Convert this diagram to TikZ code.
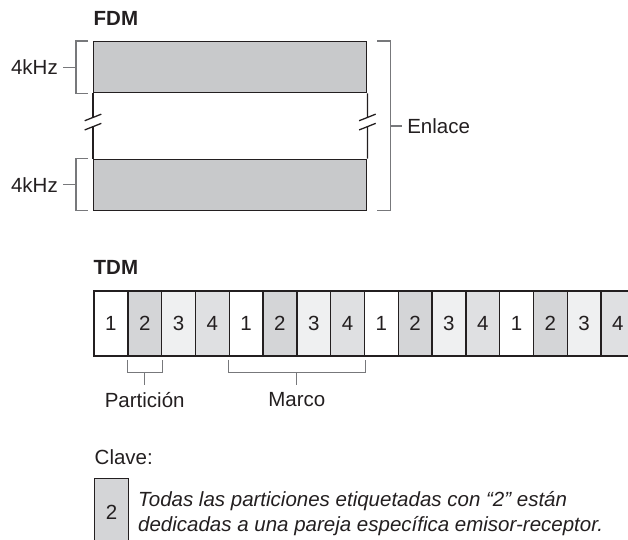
\documentclass[tikz,border=0pt]{standalone}
\usepackage{fontspec}
\setmainfont{Liberation Sans}
\usepackage{tikz}
\usetikzlibrary{positioning,calc}
\definecolor{ink}{HTML}{231F20}
\definecolor{brkgray}{HTML}{77787B}
\definecolor{bandgray}{HTML}{C8C9CB}
\definecolor{slotB}{HTML}{D4D5D7}
\definecolor{slotC}{HTML}{EFF0F1}
\definecolor{slotD}{HTML}{DFE0E2}
\newcommand{\figfont}{\fontsize{20.5}{25}\selectfont}
\tikzset{
  band/.style={draw=ink, line width=1.4pt, fill=bandgray, minimum width=273pt, minimum height=51pt, inner sep=0pt, anchor=north west},
  slot/.style={draw=ink, line width=1.4pt, minimum width=33.8pt, minimum height=65pt, inner sep=0pt, text=ink, font=\figfont},
  slot1/.style={slot, fill=white},
  slot2/.style={slot, fill=slotB},
  slot3/.style={slot, fill=slotC},
  slot4/.style={slot, fill=slotD},
  brk/.style={draw=brkgray, line width=1.1pt},
  cut/.style={draw=ink, line width=1.3pt},
  lbl/.style={text=ink, inner sep=0pt, font=\figfont},
  head/.style={lbl, font=\figfont\bfseries, anchor=base west}
}

\begin{document}
\begin{tikzpicture}[x=1pt, y=-1pt]
\useasboundingbox (0,0) rectangle (628,539);
\clip (0,0) rectangle (628,539);

\node[head] (fdm) at (93.5,25) {FDM};
\node[band] (bandA) at (93,41) {};
\node[band] (bandB) at (93,158.5) {};

\foreach \s/\g in {west/L, east/R}{
  \coordinate (gap\g) at ($(bandA.south \s)!0.44!(bandB.north \s)$);
  \draw[cut] (bandA.south \s) -- ([yshift=4.6pt]gap\g);
  \draw[cut] ([yshift=-4.6pt]gap\g) -- (bandB.north \s);
  \foreach \d in {4.6,-4.6}
    \draw[cut] ([shift={(-8.3pt,\d pt-3.3pt)}]gap\g) -- ([shift={(8.3pt,\d pt+3.3pt)}]gap\g);
}

\foreach \b/\k in {bandA/kA, bandB/kB}{
  \draw[brk] ([xshift=-5pt]\b.north west) -- ++(-12,0) |- ([xshift=-5pt]\b.south west);
  \coordinate (\k m) at ([xshift=-17pt]\b.west);
  \node[lbl, inner xsep=5pt, anchor=east] (\k) at ([xshift=-30pt]\b.west) {4kHz};
  \draw[brk] (\k m) -- (\k);
}

\draw[brk] ([xshift=10pt]bandA.north east) -- ++(13,0) |- ([xshift=10pt]bandB.south east);
\coordinate (linkm) at ($([xshift=23pt]bandA.north east)!0.5!([xshift=23pt]bandB.south east)$);
\node[lbl, inner xsep=4.7pt, anchor=west] (link) at ([xshift=12pt]linkm) {Enlace};
\draw[brk] (linkm) -- (link);

\node[head] (tdm) at (93.5,274) {TDM};
\foreach \i in {1,...,16}{
  \pgfmathtruncatemacro{\n}{mod(\i-1,4)+1}
  \node[slot\n] (c\i) at (110.9+33.8*\i-33.8, 323.5) {\n};
}

\draw[brk] ([yshift=-3pt]c2.south west) -- ++(0,13) -| ([yshift=-3pt]c2.south east);
\coordinate (partm) at ($(c2.south west)!0.5!(c2.south east)+(0,16)$);
\node[lbl, inner ysep=7pt, below=12pt of partm] (part) {Partición};
\draw[brk] (partm) -- (part);

\draw[brk] ([yshift=-3pt]c5.south west) -- ++(0,13) -| ([yshift=-3pt]c8.south east);
\coordinate (framem) at ($(c5.south west)!0.5!(c8.south east)+(0,16)$);
\node[lbl, inner ysep=7pt, below=12pt of framem] (frame) {Marco};
\draw[brk] (framem) -- (frame);

\node[lbl, anchor=base west] (key) at (94.5,464.3) {Clave:};
\node[slot2, minimum height=68pt, anchor=north west] (keyslot) at (94,478) {2};
\node[lbl, font=\figfont\itshape, align=left, anchor=north west] (keytext) at (138,491)
  {Todas las particiones etiquetadas con “2” están\\dedicadas a una pareja específica emisor-receptor.};
\end{tikzpicture}
\end{document}
